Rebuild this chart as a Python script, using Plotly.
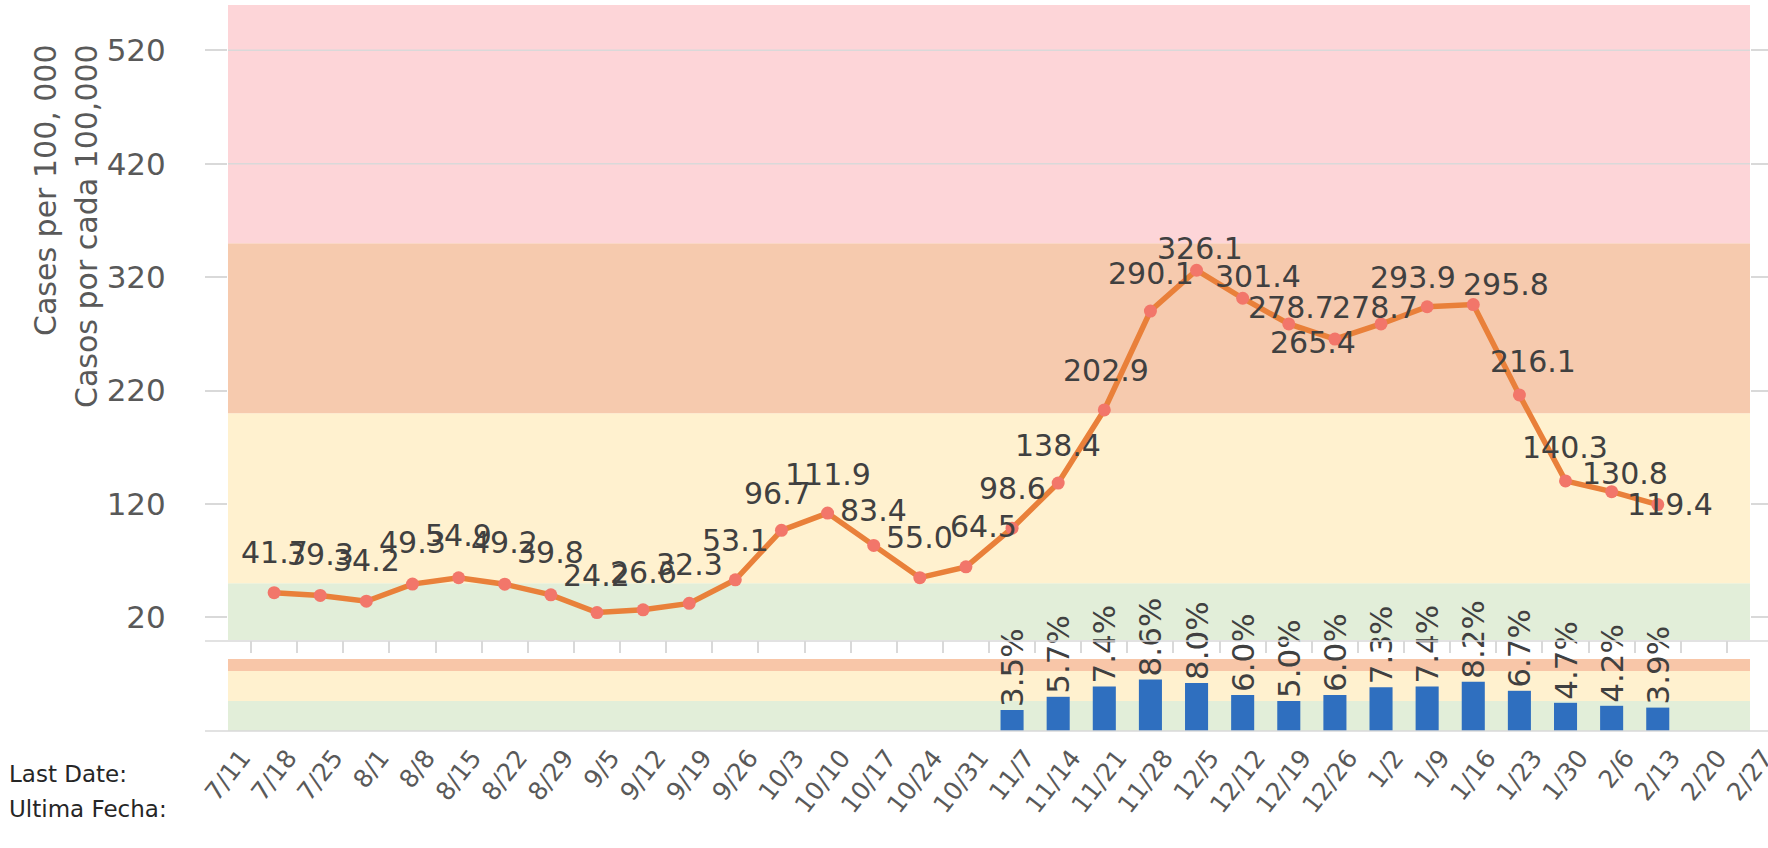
import plotly.graph_objects as go

# ---------------- data ----------------
weeks = ["7/11", "7/18", "7/25", "8/1", "8/8", "8/15", "8/22", "8/29", "9/5", "9/12",
         "9/19", "9/26", "10/3", "10/10", "10/17", "10/24", "10/31", "11/7", "11/14",
         "11/21", "11/28", "12/5", "12/12", "12/19", "12/26", "1/2", "1/9", "1/16",
         "1/23", "1/30", "2/6", "2/13", "2/20", "2/27"]

case_weeks = weeks[1:32]
cases = [41.7, 39.3, 34.2, 49.3, 54.9, 49.2, 39.8, 24.2, 26.6, 32.3, 53.1, 96.7,
         111.9, 83.4, 55.0, 64.5, 98.6, 138.4, 202.9, 290.1, 326.1, 301.4, 278.7,
         265.4, 278.7, 293.9, 295.8, 216.1, 140.3, 130.8, 119.4]

pos_weeks = weeks[17:32]
positivity = [3.5, 5.7, 7.4, 8.6, 8.0, 6.0, 5.0, 6.0, 7.3, 7.4, 8.2, 6.7, 4.7, 4.2, 3.9]

case_ticks = [20, 120, 220, 320, 420, 520]
case_zones = [0, 50, 200, 350, 560]
pos_zones = [0, 5, 10, 12]

# ---------------- styles ----------------
zone_colors = ["#E2EED9", "#FFF1CF", "#F6CAAE", "#FDD5D8"]
pos_zone_colors = ["#E2EED9", "#FFF1CF", "#F8C6A8"]

# label offsets in pixels (x, y) relative to each point
label_dx = [0, 0, 0, 0, 0, 0, 0, 0, 0, 0, 0, -4, 0, 0, 0, 18, 0, 0, 2, 1,
            3, 15, 2, -22, -6, -14, 33, 14, -1, 13, 12]
label_dy = [40, 41, 41, 42, 42, 42, 42, 37, 37, 39, 39, 37, 39, 35, 40, 40, 40, 38, 39, 38,
            22, 22, 16, -3, 16, 29, 20, 33, 33, 18, 0]

FONT = "DejaVu Sans"
GRAY = "#595959"
LINE = "#D9D9D9"

W, H = 1768, 848
ML, MR, MT, MB = 228, 18, 5, 117
PW = W - ML - MR
PH = H - MT - MB


def px(xpix):
    return (xpix - ML) / PW


def py(ypix):
    return (H - MB - ypix) / PH


main_bottom = py(640)
lower_top = py(659)

fig = go.Figure()

fig.add_trace(go.Scatter(
    x=case_weeks, y=cases, mode="lines+markers",
    line=dict(color="#E9803A", width=5.5),
    marker=dict(color="#F2766A", size=13),
    xaxis="x", yaxis="y", showlegend=False, hoverinfo="skip",
))

fig.add_trace(go.Bar(
    x=pos_weeks, y=positivity, width=0.5,
    marker=dict(color="#2F6FBF", line=dict(width=0)),
    text=[f"{v:.1f}%" for v in positivity], textposition="outside",
    textangle=-90, constraintext="none",
    textfont=dict(family=FONT, size=31, color="#404040"),
    cliponaxis=False, xaxis="x2", yaxis="y2", showlegend=False, hoverinfo="skip",
))

# data labels for the case line
for wk, v, dx, dy in zip(case_weeks, cases, label_dx, label_dy):
    fig.add_annotation(x=wk, y=v, xref="x", yref="y", text=f"{v:.1f}",
                       showarrow=False, xshift=dx, yshift=dy,
                       font=dict(family=FONT, size=30, color="#404040"))

shapes = []
for lo, hi, col in zip(case_zones[:-1], case_zones[1:], zone_colors):
    shapes.append(dict(type="rect", xref="paper", yref="y", x0=0, x1=1, y0=lo, y1=hi,
                       fillcolor=col, line=dict(width=0), layer="below"))
# gridlines only show through the top (red) zone
for t in case_ticks:
    if t > case_zones[-2]:
        shapes.append(dict(type="line", xref="paper", yref="y", x0=0, x1=1, y0=t, y1=t,
                           line=dict(color=LINE, width=1.5), layer="below"))
for lo, hi, col in zip(pos_zones[:-1], pos_zones[1:], pos_zone_colors):
    shapes.append(dict(type="rect", xref="paper", yref="y2", x0=0, x1=1, y0=lo, y1=hi,
                       fillcolor=col, line=dict(width=0), layer="below"))
# axis lines spanning beyond the plot area
for yy in (py(641), py(731)):
    shapes.append(dict(type="line", xref="paper", yref="paper", x0=px(205), x1=px(1768),
                       y0=yy, y1=yy, line=dict(color=LINE, width=1.5)))
fig.update_layout(shapes=shapes)

fig.update_layout(
    width=W, height=H,
    margin=dict(l=ML, r=MR, t=MT, b=MB, autoexpand=False),
    paper_bgcolor="white", plot_bgcolor="white",
    xaxis=dict(type="category", categoryorder="array", categoryarray=weeks,
               range=[0, 33], domain=[0, 1], anchor="y",
               showticklabels=False, ticks="outside", ticklen=12, tickcolor=LINE,
               tickwidth=1.5, tickson="boundaries", showgrid=False, showline=False,
               zeroline=False),
    yaxis=dict(domain=[main_bottom, 1], range=[0, 560], tickvals=case_ticks,
               ticks="outside", ticklen=22, tickcolor=LINE, tickwidth=1.5,
               mirror="ticks", showgrid=False,
               zeroline=False, showline=False,
               tickfont=dict(family=FONT, size=31, color=GRAY),
               ticklabelstandoff=33),
    xaxis2=dict(type="category", categoryorder="array", categoryarray=weeks,
                range=[0, 33], domain=[0, 1], anchor="y2",
                tickangle=-52, ticks="", showgrid=False, showline=False, zeroline=False,
                tickfont=dict(family=FONT, size=25, color=GRAY),
                ticklabelstandoff=6, ticklabelshift=14),
    yaxis2=dict(domain=[0, lower_top], range=[0, 12], visible=False),
)

# y-axis titles
fig.add_annotation(text="Cases per 100, 000", xref="paper", yref="paper",
                   x=px(45), y=py(42), xanchor="center", yanchor="top", textangle=-90,
                   showarrow=False, font=dict(family=FONT, size=30, color=GRAY))
fig.add_annotation(text="Casos por cada 100,000", xref="paper", yref="paper",
                   x=px(86), y=py(42), xanchor="center", yanchor="top", textangle=-90,
                   showarrow=False, font=dict(family=FONT, size=30, color=GRAY))

fig.add_annotation(text="Last Date:", xref="paper", yref="paper", x=px(7), y=py(774),
                   xanchor="left", yanchor="middle", showarrow=False,
                   font=dict(family=FONT, size=23, color="#262626"))
fig.add_annotation(text="Ultima Fecha:", xref="paper", yref="paper", x=px(7), y=py(809),
                   xanchor="left", yanchor="middle", showarrow=False,
                   font=dict(family=FONT, size=23, color="#262626"))

fig.write_html("out.html", config={"displayModeBar": False},
               post_script="document.body.style.margin='0';document.body.style.overflow='hidden';")
